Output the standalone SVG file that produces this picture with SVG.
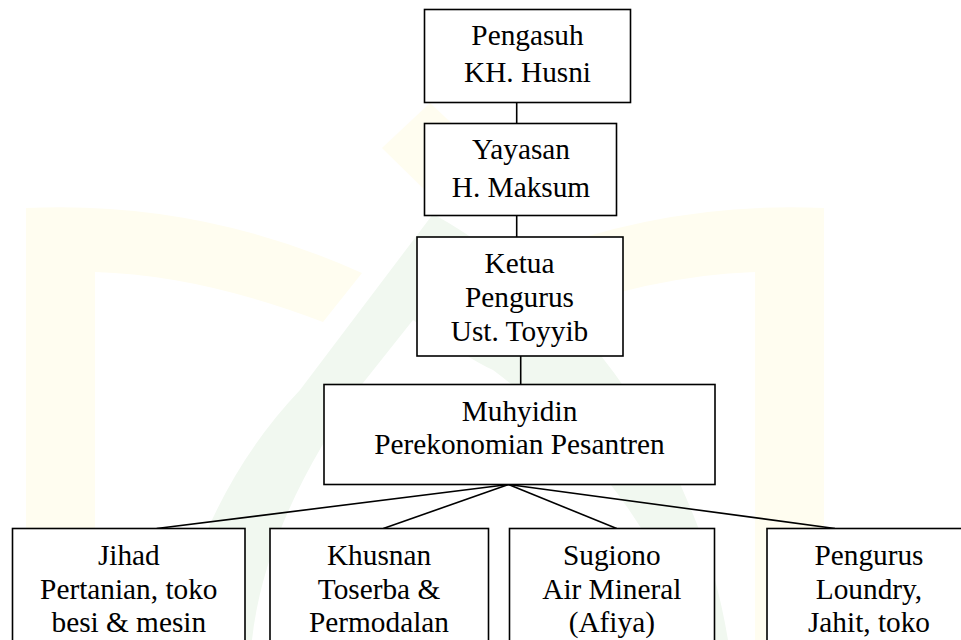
<svg xmlns="http://www.w3.org/2000/svg" width="961" height="640" viewBox="0 0 961 640">
<style>
.box{fill:#ffffff;stroke:#000000;stroke-width:1.6}
.lbl{font-family:'Liberation Serif','Times New Roman',serif;font-size:29.3px;fill:#000000;text-anchor:middle}
.con line{stroke:#000000;stroke-width:1.6}
.wy{fill:#fffdf0}
.wg{fill:#f1f8f0}
</style>
<rect x="0" y="0" width="961" height="640" fill="#ffffff"/>
<g id="watermark">
<path class="wy" d="M26,208 Q200,200 362,273 L323,322 Q200,275 95,272 L95,640 L26,640 Z"/>
<path class="wy" transform="translate(850,0) scale(-1,1)" d="M26,208 Q200,200 362,273 L323,322 Q200,275 95,272 L95,640 L26,640 Z"/>
<path class="wy" d="M382,148 L430,103 L478,148 L430,195 Z"/>
<path class="wg" d="M433,214 L300,390 Q205,490 172,640 L252,640 Q265,520 363,383 L413,320 Q470,360 493,370 Q600,450 660,560 L690,640 L728,640 Q700,470 580,330 Q500,250 433,214 Z"/>
</g>
<g id="connectors" class="con">
<line x1="516.7" y1="102.5" x2="516.7" y2="123.5"/>
<line x1="516.7" y1="215.5" x2="516.7" y2="237"/>
<line x1="520.7" y1="356" x2="520.7" y2="384.5"/>
<line x1="508.5" y1="484.5" x2="156.7" y2="528.5"/>
<line x1="508.5" y1="484.5" x2="383.3" y2="528.5"/>
<line x1="508.5" y1="484.5" x2="616.7" y2="528.5"/>
<line x1="508.5" y1="484.5" x2="835" y2="528.5"/>
</g>
<g id="pengasuh">
<rect class="box" x="424.5" y="9.5" width="206" height="93"/>
<text class="lbl" x="527.5" y="45.3">Pengasuh</text>
<text class="lbl" x="527.5" y="82">KH. Husni</text>
</g>
<g id="yayasan">
<rect class="box" x="424.5" y="123.5" width="192" height="92"/>
<text class="lbl" x="521" y="159.3">Yayasan</text>
<text class="lbl" x="521" y="196.7">H. Maksum</text>
</g>
<g id="ketua">
<rect class="box" x="417" y="237" width="206" height="119"/>
<text class="lbl" x="519.5" y="273.3">Ketua</text>
<text class="lbl" x="519.5" y="307.3">Pengurus</text>
<text class="lbl" x="519.5" y="341">Ust. Toyyib</text>
</g>
<g id="muhyidin">
<rect class="box" x="324" y="384.5" width="391" height="100"/>
<text class="lbl" x="519.5" y="420.7">Muhyidin</text>
<text class="lbl" x="519.5" y="454">Perekonomian Pesantren</text>
</g>
<g id="jihad">
<rect class="box" x="12.5" y="528.5" width="232.5" height="140"/>
<text class="lbl" x="128.8" y="565">Jihad</text>
<text class="lbl" x="128.8" y="599">Pertanian, toko</text>
<text class="lbl" x="128.8" y="632">besi &amp; mesin</text>
</g>
<g id="khusnan">
<rect class="box" x="270" y="528.5" width="218.5" height="140"/>
<text class="lbl" x="379" y="565">Khusnan</text>
<text class="lbl" x="379" y="599">Toserba &amp;</text>
<text class="lbl" x="379" y="632">Permodalan</text>
</g>
<g id="sugiono">
<rect class="box" x="509.5" y="528.5" width="205" height="140"/>
<text class="lbl" x="611.8" y="565">Sugiono</text>
<text class="lbl" x="611.8" y="599">Air Mineral</text>
<text class="lbl" x="611.8" y="632">(Afiya)</text>
</g>
<g id="pengurus">
<rect class="box" x="767" y="528.5" width="205" height="140"/>
<text class="lbl" x="869" y="565">Pengurus</text>
<text class="lbl" x="869" y="599">Loundry,</text>
<text class="lbl" x="869" y="632">Jahit, toko</text>
</g>
</svg>
